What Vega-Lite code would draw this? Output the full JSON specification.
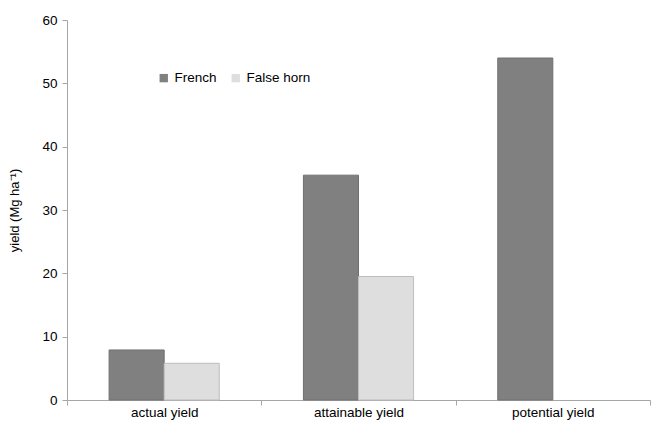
{
  "$schema": "https://vega.github.io/schema/vega-lite/v6.json",
  "width": 583,
  "height": 380,
  "autosize": {"type": "none"},
  "padding": {"left": 67, "top": 20, "right": 1, "bottom": 22},
  "background": "white",
  "config": {
    "view": {"stroke": null},
    "font": "Liberation Sans",
    "axis": {"labelFont": "Liberation Sans", "titleFont": "Liberation Sans", "labelColor": "#000", "titleColor": "#000", "domainColor": "#a6a6a6", "tickColor": "#a6a6a6", "grid": false, "labelFontSize": 13.5, "titleFontSize": 13, "titleFontWeight": "normal"}
  },
  "data": {
    "values": [
      {"category": "actual yield", "crop": "French", "yield": 7.9},
      {"category": "actual yield", "crop": "False horn", "yield": 5.8},
      {"category": "attainable yield", "crop": "French", "yield": 35.5},
      {"category": "attainable yield", "crop": "False horn", "yield": 19.5},
      {"category": "potential yield", "crop": "French", "yield": 54}
    ]
  },
  "mark": {"type": "bar", "strokeWidth": 1},
  "encoding": {
    "x": {
      "field": "category", "type": "nominal", "sort": ["actual yield", "attainable yield", "potential yield"],
      "scale": {"paddingInner": 0, "paddingOuter": 0},
      "axis": {"title": null, "labelAngle": 0, "tickBand": "extent", "tickSize": 5, "labelPadding": 0, "domainWidth": 1}
    },
    "xOffset": {
      "field": "crop", "type": "nominal", "sort": ["French", "False horn"],
      "scale": {"paddingInner": 0, "paddingOuter": 0.764}
    },
    "y": {
      "field": "yield", "type": "quantitative",
      "scale": {"domain": [0, 60]},
      "axis": {"title": "yield (Mg ha⁻¹)", "values": [0, 10, 20, 30, 40, 50, 60], "tickSize": 5, "labelPadding": 5, "titlePadding": 20}
    },
    "color": {
      "field": "crop", "type": "nominal", "sort": ["French", "False horn"],
      "scale": {"domain": ["French", "False horn"], "range": ["#808080", "#dedede"]},
      "legend": {"title": null, "orient": "none", "legendX": 90, "legendY": 51, "direction": "horizontal", "symbolType": "square", "symbolSize": 70, "labelFontSize": 13.5, "labelFont": "Liberation Sans", "columnPadding": 12, "symbolStrokeWidth": 0}
    },
    "stroke": {
      "field": "crop", "type": "nominal",
      "scale": {"domain": ["French", "False horn"], "range": ["#707070", "#bdbdbd"]},
      "legend": null
    }
  }
}
